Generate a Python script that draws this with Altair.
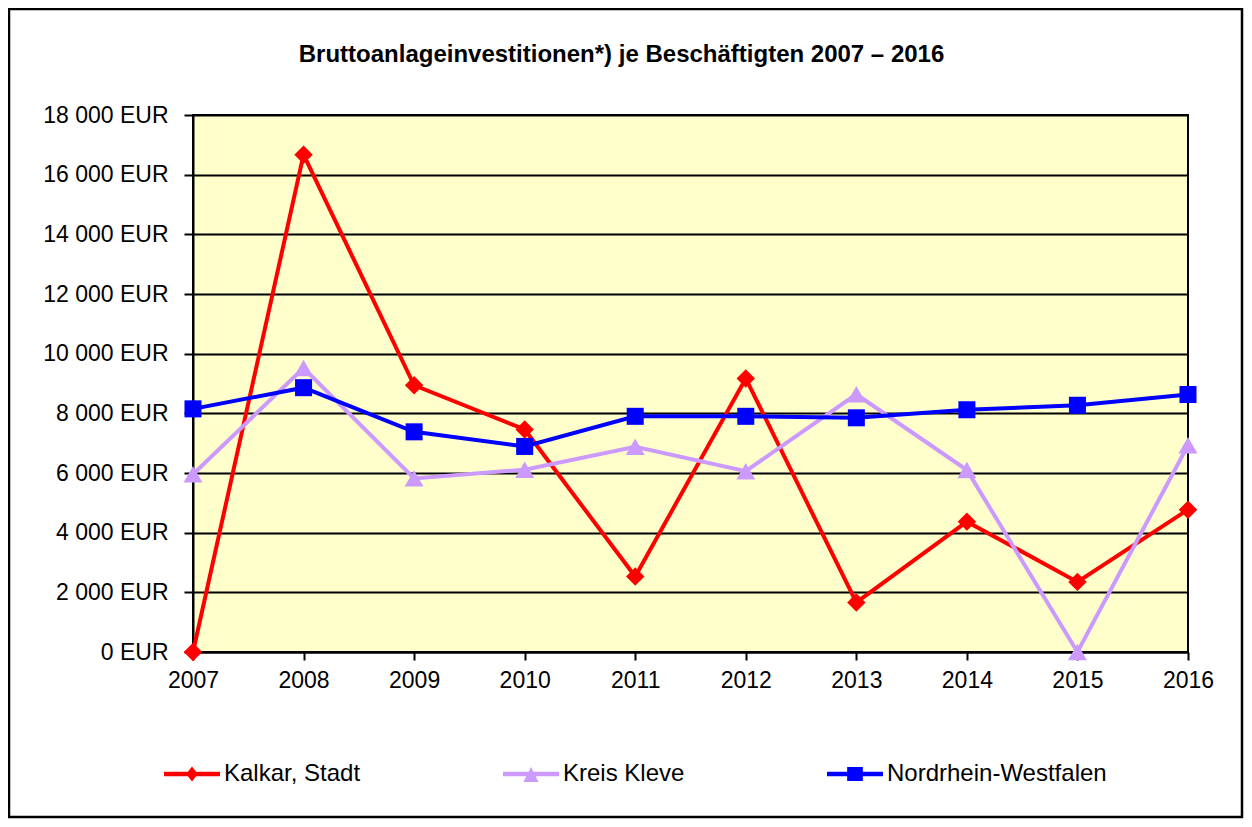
import altair as alt
import pandas as pd

years = [2007, 2008, 2009, 2010, 2011, 2012, 2013, 2014, 2015, 2016]
series_names = ["Kalkar, Stadt", "Kreis Kleve", "Nordrhein-Westfalen"]
kalkar = [0, 16670, 8940, 7460, 2530, 9170, 1660, 4370, 2350, 4770]
kleve = [5960, 9520, 5820, 6110, 6880, 6060, 8640, 6100, 0, 6930]
nrw = [8150, 8860, 7380, 6890, 7900, 7900, 7850, 8120, 8270, 8630]
y_ticks = [0, 2000, 4000, 6000, 8000, 10000, 12000, 14000, 16000, 18000]
title_text = "Bruttoanlageinvestitionen*) je Beschäftigten 2007 – 2016"

colors = ["#FF0000", "#CC99FF", "#0000FF"]
shapes = ["diamond", "triangle-up", "square"]
sizes = [340, 360, 290]
legend_paths = [
    "M-1,-0.08L1,-0.08L1,0.08L-1,0.08Z M0,-0.27L0.21,0L0,0.27L-0.21,0Z",
    "M-1,-0.08L1,-0.08L1,0.08L-1,0.08Z M0,-0.25L0.27,0.29L-0.27,0.29Z",
    "M-1,-0.08L1,-0.08L1,0.08L-1,0.08Z M-0.28,-0.25L0.28,-0.25L0.28,0.25L-0.28,0.25Z",
]

rows = []
for name, vals in zip(series_names, [kalkar, kleve, nrw]):
    for yr, v in zip(years, vals):
        rows.append({"year": yr, "value": v, "series": name})
df = pd.DataFrame(rows)

FONT = "Liberation Sans"

x_enc = alt.X("year:Q",
              scale=alt.Scale(domain=[2007, 2016], nice=False, zero=False),
              axis=alt.Axis(values=years, format="d", title=None, grid=False,
                            labelFont=FONT, labelFontSize=23, labelColor="black",
                            tickColor="black", tickWidth=2, tickSize=8,
                            domainColor="black", domainWidth=2,
                            labelPadding=9, labelFlush=False))
y_enc = alt.Y("value:Q",
              scale=alt.Scale(domain=[0, 18000], nice=False),
              axis=alt.Axis(values=y_ticks, title=None, grid=True,
                            gridColor="black", gridWidth=2, gridOpacity=1,
                            labelExpr="replace(format(datum.value, ','), ',', ' ') + ' EUR'",
                            labelFont=FONT, labelFontSize=23, labelColor="black",
                            tickColor="black", tickWidth=2, tickSize=9,
                            domainColor="black", domainWidth=2,
                            labelPadding=16))

base = alt.Chart(df)

layers = []
for name, col, shp, sz in zip(series_names, colors, shapes, sizes):
    sub = base.transform_filter(alt.datum.series == name)
    layers.append(sub.mark_line(color=col, strokeWidth=4).encode(x=x_enc, y=y_enc))
    layers.append(sub.mark_point(shape=shp, filled=True, color=col, size=sz,
                                 opacity=1, strokeWidth=0).encode(x=x_enc, y=y_enc))

legend = alt.Legend(orient="none", legendX=-29, legendY=631, direction="horizontal",
                    columns=3, columnPadding=142, title=None,
                    labelFont=FONT, labelFontSize=24, labelColor="black",
                    labelLimit=500, labelOffset=4, symbolSize=3136,
                    symbolStrokeWidth=0, symbolOpacity=1)

legend_layer = base.transform_filter("false").mark_point(filled=True, opacity=1, size=3136).encode(
    x=x_enc, y=y_enc,
    color=alt.Color("series:N", scale=alt.Scale(domain=series_names, range=colors), legend=legend),
    shape=alt.Shape("series:N", scale=alt.Scale(domain=series_names, range=legend_paths), legend=legend),
)

frame = alt.Chart(alt.Data(values=[{"a": 1}])).mark_rect(
    filled=False, fillOpacity=0, color="black", stroke="black", strokeWidth=2.5
).encode(x=alt.value(-184), x2=alt.value(1049), y=alt.value(-106), y2=alt.value(702))

chart = alt.layer(frame, *layers, legend_layer).properties(
    width=995, height=537,
    background="white",
    autosize=alt.AutoSizeParams(type="none"),
    padding={"left": 185, "top": 107, "right": 56, "bottom": 167},
    title=alt.TitleParams(title_text, font=FONT, fontSize=24, fontWeight="bold",
                          color="black", anchor="middle", dx=-69, offset=-59),
).configure_view(fill="#FFFFCC", stroke="black", strokeWidth=2)

chart.save("out.html", embed_options={"renderer": "svg", "actions": False})
